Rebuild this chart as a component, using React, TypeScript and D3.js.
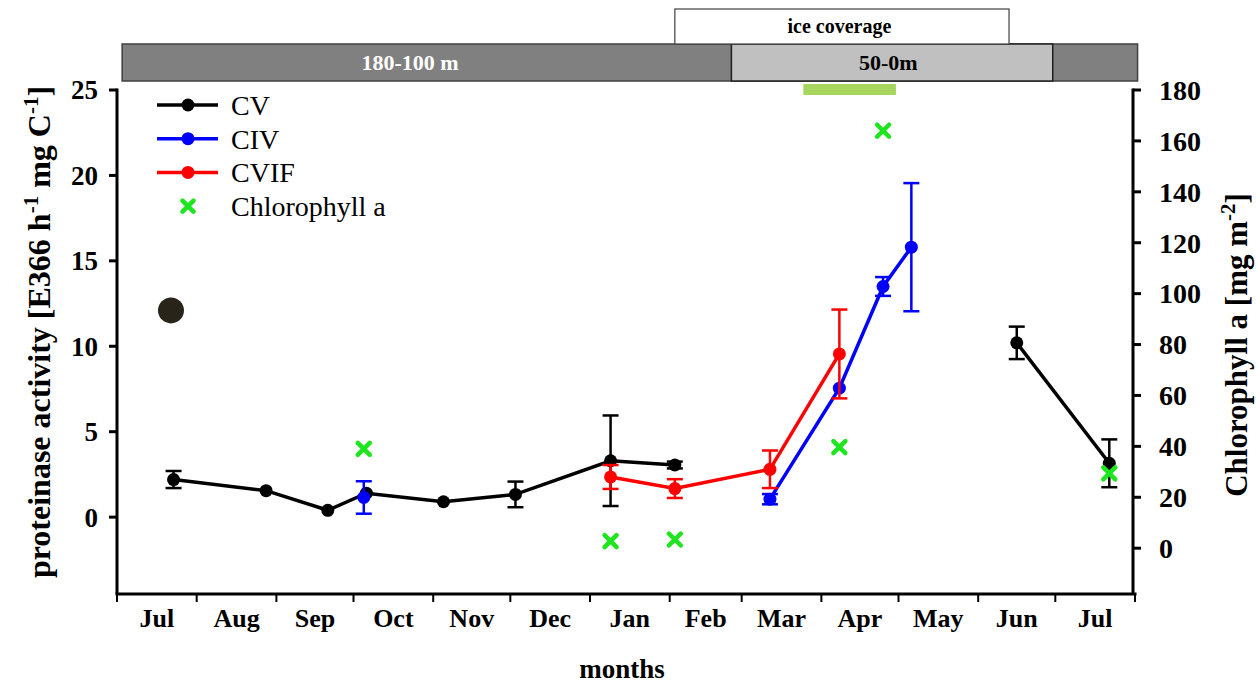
import React from 'react';
import * as d3 from 'd3';

// ---------- data ----------
const monthTicks = [
  '2004-07-01', '2004-08-01', '2004-09-01', '2004-10-01', '2004-11-01', '2004-12-01',
  '2005-01-01', '2005-02-01', '2005-03-01', '2005-04-01', '2005-05-01', '2005-06-01',
  '2005-07-01', '2005-08-01',
];
const monthLabels = ['Jul', 'Aug', 'Sep', 'Oct', 'Nov', 'Dec', 'Jan', 'Feb', 'Mar', 'Apr', 'May', 'Jun', 'Jul'];

const leftTicks = [0, 5, 10, 15, 20, 25];
const rightTicks = [0, 20, 40, 60, 80, 100, 120, 140, 160, 180];

const cvDates = ['2004-07-23', '2004-08-28', '2004-09-21', '2004-10-06', '2004-11-05', '2004-12-03', '2005-01-09', '2005-02-03', '2005-06-16', '2005-07-22'];
const cvValues = [2.2, 1.55, 0.4, 1.4, 0.9, 1.33, 3.3, 3.05, 10.2, 3.15];
const cvErrors = [0.5, 0, 0, 0, 0, 0.75, 2.65, 0.2, 0.95, 1.4];
const cvSegments = [0, 0, 0, 0, 0, 0, 0, 0, 1, 1];

const civDates = ['2004-10-05', '2005-03-12', '2005-04-08', '2005-04-25', '2005-05-06'];
const civValues = [1.15, 1.05, 7.55, 13.5, 15.8];
const civErrors = [0.95, 0.3, 0, 0.55, 3.75];
const civSegments = [0, 1, 1, 1, 1];

const cvifDates = ['2005-01-09', '2005-02-03', '2005-03-12', '2005-04-08'];
const cvifValues = [2.35, 1.67, 2.8, 9.55];
const cvifErrors = [0.7, 0.55, 1.1, 2.6];
const cvifSegments = [0, 0, 0, 0];

const chlDates = ['2004-10-05', '2005-01-09', '2005-02-03', '2005-04-08', '2005-04-25', '2005-07-22'];
const chlValues = [39, 2.8, 3.4, 39.7, 164, 29.4];

const outlierDate = '2004-07-22';
const outlierValue = 12.1;

const bandLabels = ['180-100 m', '50-0m', 'ice coverage'];
const bandStarts = ['2004-07-03', '2005-02-25', '2005-02-03'];
const bandEnds = ['2005-08-02', '2005-06-30', '2005-06-13'];
const bandLabelDates = ['2004-10-23', '2005-04-27', '2005-04-08'];

const bloomStart = '2005-03-25';
const bloomEnd = '2005-04-30';

const legendNames = ['CV', 'CIV', 'CVIF', 'Chlorophyll a'];
const legendColors = ['#000000', '#0000ff', '#ff0000', '#1ee61e'];

// ---------- layout ----------
const W = 1256;
const H = 685;
const X0 = 117;
const X1 = 1135;
const XR = 1133;
const YTOP = 90;
const YBOT = 594;
const FONT = '"Liberation Serif", "Times New Roman", serif';

const parse = (s: string) => d3.timeParse('%Y-%m-%d')(s) as Date;

export default function App() {
  const x = d3.scaleTime().domain([parse(monthTicks[0]), parse(monthTicks[monthTicks.length - 1])]).range([X0, X1]);
  const yL = d3.scaleLinear().domain([-4.5, 25]).range([YBOT, YTOP]);
  const yR = d3.scaleLinear().domain([-18, 180]).range([YBOT, YTOP]);

  const line = d3.line<[number, number]>().x((d) => d[0]).y((d) => d[1]);

  const series = (dates: string[], vals: number[]) => dates.map((d, i) => [x(parse(d)), yL(vals[i])] as [number, number]);

  const cvPts = series(cvDates, cvValues);
  const civPts = series(civDates, civValues);
  const cvifPts = series(cvifDates, cvifValues);

  const segLines = (pts: [number, number][], segs: number[], color: string, key: string) =>
    Array.from(new Set(segs)).map((s) => {
      const sp = pts.filter((_, i) => segs[i] === s);
      if (sp.length < 2) return null;
      return <path key={key + s} d={line(sp) || ''} fill="none" stroke={color} strokeWidth={3.5} />;
    });

  const errBars = (dates: string[], vals: number[], errs: number[], color: string, key: string) =>
    dates.map((d, i) => {
      if (!errs[i]) return null;
      const cx = x(parse(d));
      const y1 = yL(vals[i] + errs[i]);
      const y2 = yL(vals[i] - errs[i]);
      return (
        <g key={key + i} stroke={color} strokeWidth={2.5}>
          <line x1={cx} x2={cx} y1={y1} y2={y2} />
          <line x1={cx - 8} x2={cx + 8} y1={y1} y2={y1} />
          <line x1={cx - 8} x2={cx + 8} y1={y2} y2={y2} />
        </g>
      );
    });

  const dots = (pts: [number, number][], color: string, key: string) =>
    pts.map((p, i) => <circle key={key + i} cx={p[0]} cy={p[1]} r={6.5} fill={color} />);

  const cross = (cx: number, cy: number, key: string, s = 6) => (
    <g key={key} stroke="#1ee61e" strokeWidth={4.5} strokeLinecap="round">
      <line x1={cx - s} y1={cy - s} x2={cx + s} y2={cy + s} />
      <line x1={cx - s} y1={cy + s} x2={cx + s} y2={cy - s} />
    </g>
  );

  const monthTickDates = monthTicks.map(parse);

  return (
    <svg width={W} height={H} style={{ position: 'absolute', left: 0, top: 0, background: '#fff' }} fontFamily={FONT}>
      {/* top bands */}
      <rect x={x(parse(bandStarts[0]))} y={44} width={x(parse(bandEnds[0])) - x(parse(bandStarts[0]))} height={37} fill="#808080" stroke="#404040" strokeWidth={1.5} />
      <rect x={x(parse(bandStarts[1]))} y={44} width={x(parse(bandEnds[1])) - x(parse(bandStarts[1]))} height={37} fill="#c0c0c0" stroke="#202020" strokeWidth={1.5} />
      <rect x={x(parse(bandStarts[2]))} y={9} width={x(parse(bandEnds[2])) - x(parse(bandStarts[2]))} height={35} fill="#ffffff" stroke="#404040" strokeWidth={1.2} />
      <text x={x(parse(bandLabelDates[0]))} y={70} textAnchor="middle" fontWeight="bold" fontSize={22} fill="#ffffff">{bandLabels[0]}</text>
      <text x={x(parse(bandLabelDates[1]))} y={70} textAnchor="middle" fontWeight="bold" fontSize={22} fill="#000">{bandLabels[1]}</text>
      <text x={x(parse(bandLabelDates[2]))} y={33} textAnchor="middle" fontWeight="bold" fontSize={20} fill="#000">{bandLabels[2]}</text>

      {/* bloom bar */}
      <rect x={x(parse(bloomStart))} y={84} width={x(parse(bloomEnd)) - x(parse(bloomStart))} height={11} fill="#a6d65e" />

      {/* axes */}
      <g stroke="#000" strokeWidth={3} fill="none">
        <line x1={X0} x2={X0} y1={YTOP - 1.5} y2={YBOT} />
        <line x1={XR} x2={XR} y1={YTOP - 1.5} y2={YBOT} />
        <line x1={X0 - 1.5} x2={X1 + 1.5} y1={YBOT} y2={YBOT} />
        {leftTicks.map((t) => (
          <line key={'lt' + t} x1={X0} x2={X0 - 8} y1={yL(t)} y2={yL(t)} />
        ))}
        {rightTicks.map((t) => (
          <line key={'rt' + t} x1={XR} x2={XR + 8} y1={yR(t)} y2={yR(t)} />
        ))}
        {monthTickDates.map((d, i) => (
          <line key={'xt' + i} x1={x(d)} x2={x(d)} y1={YBOT} y2={YBOT + 8} strokeWidth={2} />
        ))}
      </g>
      {leftTicks.map((t) => (
        <text key={'ll' + t} x={X0 - 19} y={yL(t)} dy="0.35em" textAnchor="end" fontWeight="bold" fontSize={27}>{t}</text>
      ))}
      {rightTicks.map((t) => (
        <text key={'rl' + t} x={1159} y={yR(t)} dy="0.35em" textAnchor="start" fontWeight="bold" fontSize={28}>{t}</text>
      ))}
      {monthLabels.map((m, i) => {
        const cx = (x(monthTickDates[i]) + x(monthTickDates[i + 1])) / 2;
        return (
          <text key={'ml' + i} x={cx} y={627} textAnchor="middle" fontWeight="bold" fontSize={26}>{m}</text>
        );
      })}
      <text x={622} y={678} textAnchor="middle" fontWeight="bold" fontSize={27}>months</text>

      {/* axis titles */}
      <text transform="translate(50,332) rotate(-90)" textAnchor="middle" fontWeight="bold" fontSize={32}>
        proteinase activity [E366 h<tspan dy={-12} fontSize={21}>-1</tspan><tspan dy={12}> mg C</tspan><tspan dy={-12} fontSize={21}>-1</tspan><tspan dy={12}>]</tspan>
      </text>
      <text transform="translate(1247,345) rotate(-90)" textAnchor="middle" fontWeight="bold" fontSize={31}>
        Chlorophyll a [mg m<tspan dy={-12} fontSize={21}>-2</tspan><tspan dy={12}>]</tspan>
      </text>

      {/* outlier */}
      <circle cx={x(parse(outlierDate))} cy={yL(outlierValue)} r={13} fill="#28241a" />

      {/* CV */}
      {segLines(cvPts, cvSegments, '#000', 'cvseg')}
      {errBars(cvDates, cvValues, cvErrors, '#000', 'cve')}
      {dots(cvPts, '#000', 'cvd')}

      {/* CIV */}
      {segLines(civPts, civSegments, '#0000ff', 'civseg')}
      {errBars(civDates, civValues, civErrors, '#0000ff', 'cive')}
      {dots(civPts, '#0000ff', 'civd')}

      {/* CVIF */}
      {segLines(cvifPts, cvifSegments, '#ff0000', 'cvifseg')}
      {errBars(cvifDates, cvifValues, cvifErrors, '#ff0000', 'cvife')}
      {dots(cvifPts, '#ff0000', 'cvifd')}

      {/* chlorophyll */}
      {chlDates.map((d, i) => cross(x(parse(d)), yR(chlValues[i]), 'chl' + i))}

      {/* legend */}
      {legendNames.map((n, i) => {
        const ly = 105 + i * 33.7;
        return (
          <g key={'lg' + i}>
            {i < 3 ? (
              <g>
                <line x1={157} x2={218} y1={ly} y2={ly} stroke={legendColors[i]} strokeWidth={3.5} />
                <circle cx={188} cy={ly} r={6.5} fill={legendColors[i]} />
              </g>
            ) : (
              cross(188, ly, 'lgx', 5.5)
            )}
            <text x={231} y={ly} dy="0.35em" fontSize={28}>{n}</text>
          </g>
        );
      })}
    </svg>
  );
}
